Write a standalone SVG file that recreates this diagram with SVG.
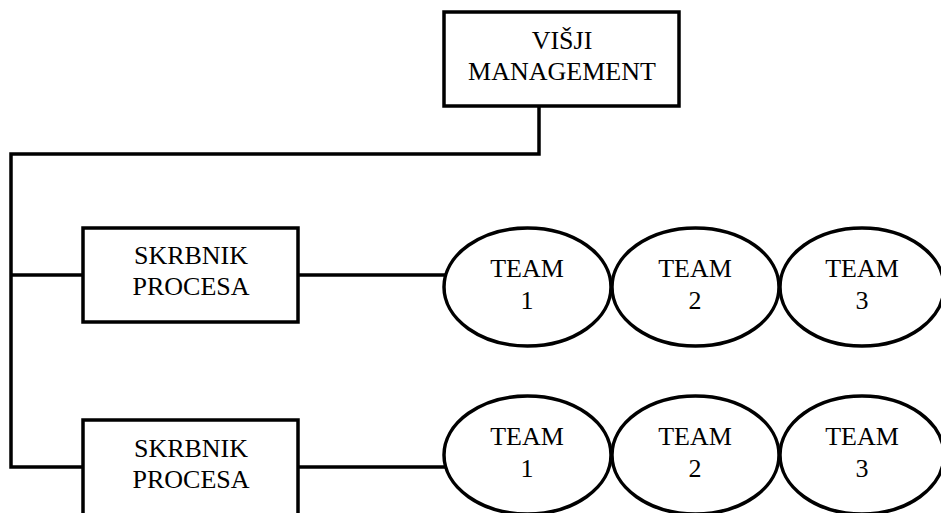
<svg xmlns="http://www.w3.org/2000/svg" width="941" height="513" viewBox="0 0 941 513">
  <style>
    .box { fill: #ffffff; stroke: #000000; stroke-width: 3.5; }
    .team { fill: #ffffff; stroke: #000000; stroke-width: 3.5; }
    .wire { fill: none; stroke: #000000; stroke-width: 3.5; stroke-linejoin: miter; }
    text { font-family: "Liberation Serif", "Times New Roman", serif; font-size: 26px; fill: #000000; text-anchor: middle; }
  </style>
  <rect width="941" height="513" fill="#ffffff"/>

  <!-- connectors -->
  <g id="connectors">
    <polyline class="wire" points="539,107 539,154 11,154 11,467 83,467"/>
    <line class="wire" x1="11" y1="275" x2="83" y2="275"/>
    <line class="wire" x1="298" y1="275" x2="445" y2="275"/>
    <line class="wire" x1="298" y1="467" x2="445" y2="467"/>
  </g>

  <!-- senior management -->
  <g id="visji-management">
    <rect class="box" x="444" y="12" width="235" height="94"/>
    <text x="562" y="49">VIŠJI</text>
    <text x="562" y="80">MANAGEMENT</text>
  </g>

  <!-- first process owner and its teams -->
  <g id="skrbnik-1">
    <rect class="box" x="83" y="228" width="215" height="94"/>
    <text x="191" y="264">SKRBNIK</text>
    <text x="191" y="295">PROCESA</text>
  </g>
  <g id="team-1-1">
    <ellipse class="team" cx="527.5" cy="287" rx="83.5" ry="59"/>
    <text x="527" y="277">TEAM</text>
    <text x="527" y="309">1</text>
  </g>
  <g id="team-1-2">
    <ellipse class="team" cx="695.5" cy="287" rx="83.5" ry="59"/>
    <text x="695" y="277">TEAM</text>
    <text x="695" y="309">2</text>
  </g>
  <g id="team-1-3">
    <ellipse class="team" cx="862" cy="287" rx="82" ry="59"/>
    <text x="862" y="277">TEAM</text>
    <text x="862" y="309">3</text>
  </g>

  <!-- second process owner and its teams -->
  <g id="skrbnik-2">
    <rect class="box" x="83" y="420" width="215" height="110"/>
    <text x="191" y="457">SKRBNIK</text>
    <text x="191" y="488">PROCESA</text>
  </g>
  <g id="team-2-1">
    <ellipse class="team" cx="527.5" cy="455" rx="83.5" ry="59"/>
    <text x="527" y="445">TEAM</text>
    <text x="527" y="477">1</text>
  </g>
  <g id="team-2-2">
    <ellipse class="team" cx="695.5" cy="455" rx="83.5" ry="59"/>
    <text x="695" y="445">TEAM</text>
    <text x="695" y="477">2</text>
  </g>
  <g id="team-2-3">
    <ellipse class="team" cx="862" cy="455" rx="82" ry="59"/>
    <text x="862" y="445">TEAM</text>
    <text x="862" y="477">3</text>
  </g>
</svg>
